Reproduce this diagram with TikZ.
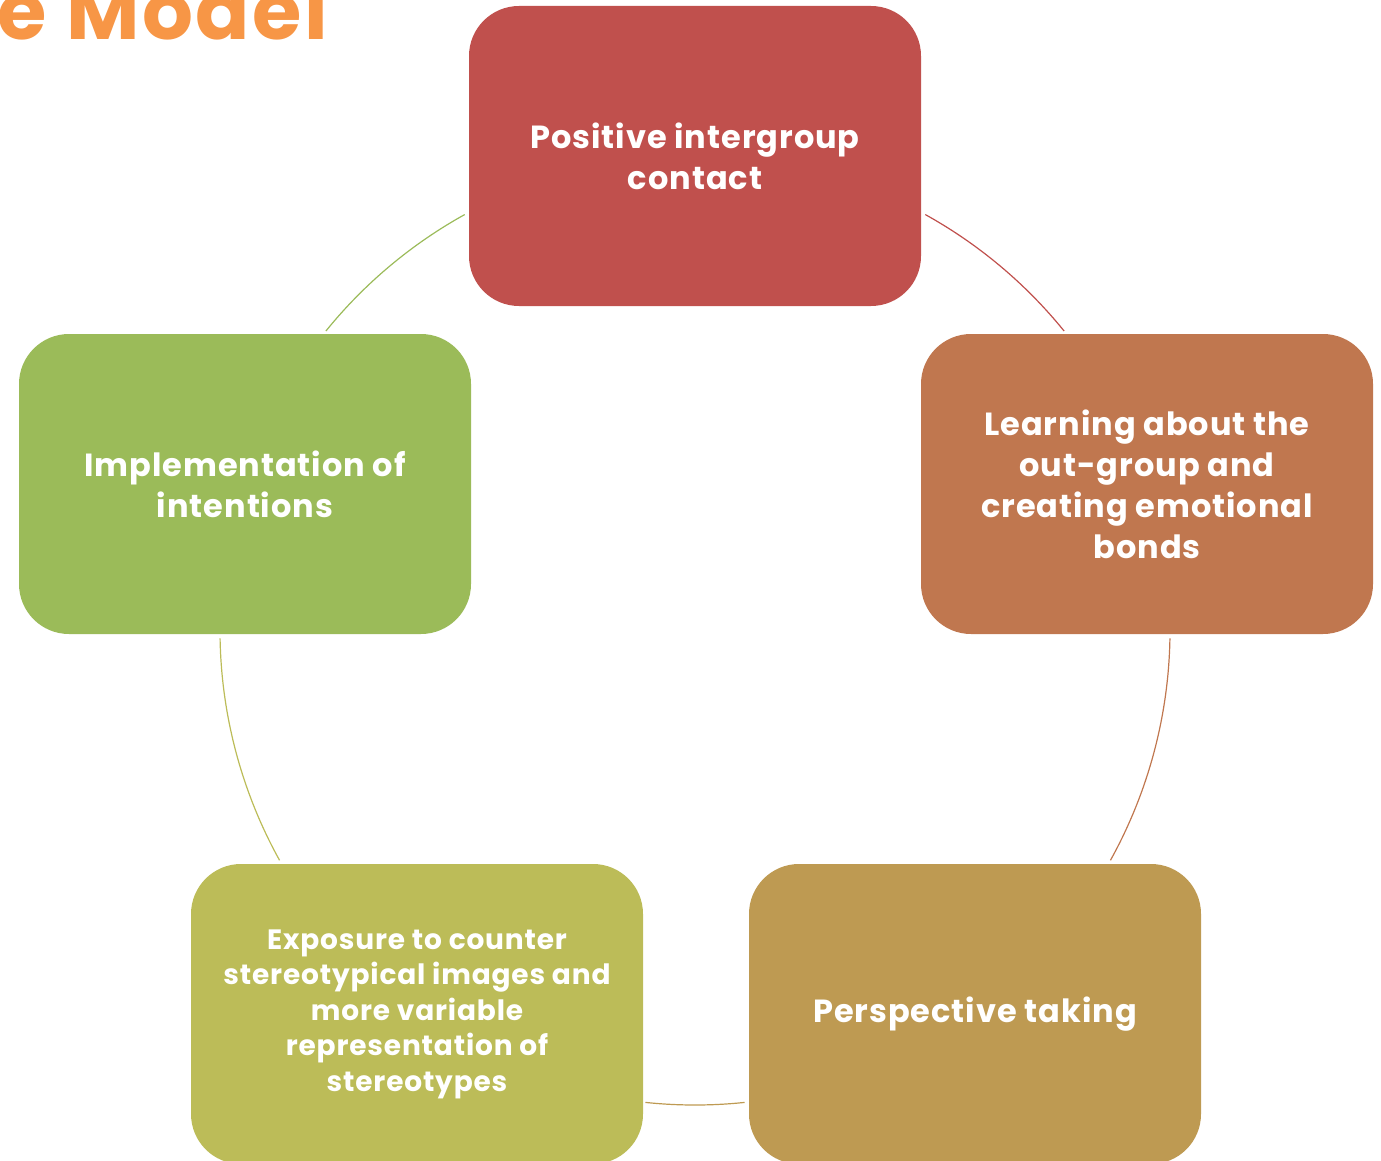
\documentclass[tikz,border=0pt]{standalone}
\usepackage{fontspec}
\setmainfont{Poppins}[LetterSpace=3]
\usepackage{tikz}

\definecolor{contactred}{HTML}{C0504D}
\definecolor{learnorange}{HTML}{C0774F}
\definecolor{perspectan}{HTML}{BE9A52}
\definecolor{exposeolive}{HTML}{BCBC58}
\definecolor{implgreen}{HTML}{9BBB59}
\definecolor{titleorange}{HTML}{F79646}

\begin{document}
\begin{tikzpicture}[x=1pt,y=1pt,
    stagebox/.style={rectangle,rounded corners=50pt,minimum height=300pt,minimum width=452pt,
      text=white,align=center,font=\bfseries\fontsize{32}{41}\selectfont},
    cyclearc/.style={line width=1.2pt}]
		\useasboundingbox (0,0) rectangle (1381,-1161);

		% title (cut off by the slide edge)
		\node[anchor=base east,inner sep=0pt,text=titleorange,font=\bfseries\fontsize{80}{86}\selectfont] (title) at (328,-40) {e Model};

		% centre of the cycle
		\coordinate (cen) at (695,-630);

		% individual stages
		\node[stagebox,fill=contactred] (contact) at (695,-156) {Positive intergroup\\contact};
		\node[stagebox,fill=learnorange] (learn) at (1147,-484) {Learning about the\\out-group and\\creating emotional\\bonds};
		\node[stagebox,fill=perspectan] (persp) at (975,-1014) {Perspective taking};
		\node[stagebox,fill=exposeolive,font=\bfseries\fontsize{28}{35.5}\selectfont] (expose) at (417,-1014) {Exposure to counter\\stereotypical images and\\more variable\\representation of\\stereotypes};
		\node[stagebox,fill=implgreen] (impl) at (245,-484) {Implementation of\\intentions};

		% arc ends on the circle
		\path (cen) ++(61:475) coordinate (contact-out);
		\path (cen) ++(-1:475) coordinate (learn-out);
		\path (cen) ++(-84:475) coordinate (persp-out);
		\path (cen) ++(-151:475) coordinate (expose-out);
		\path (cen) ++(141:475) coordinate (impl-out);

		% connecting arcs
		\draw[cyclearc,contactred] (contact-out) arc[start angle=61,end angle=39,radius=475];
		\draw[cyclearc,learnorange] (learn-out) arc[start angle=-1,end angle=-29,radius=475];
		\draw[cyclearc,perspectan] (persp-out) arc[start angle=-84,end angle=-96,radius=475];
		\draw[cyclearc,exposeolive] (expose-out) arc[start angle=-151,end angle=-179,radius=475];
		\draw[cyclearc,implgreen] (impl-out) arc[start angle=141,end angle=119,radius=475];
	\end{tikzpicture}
\end{document}
